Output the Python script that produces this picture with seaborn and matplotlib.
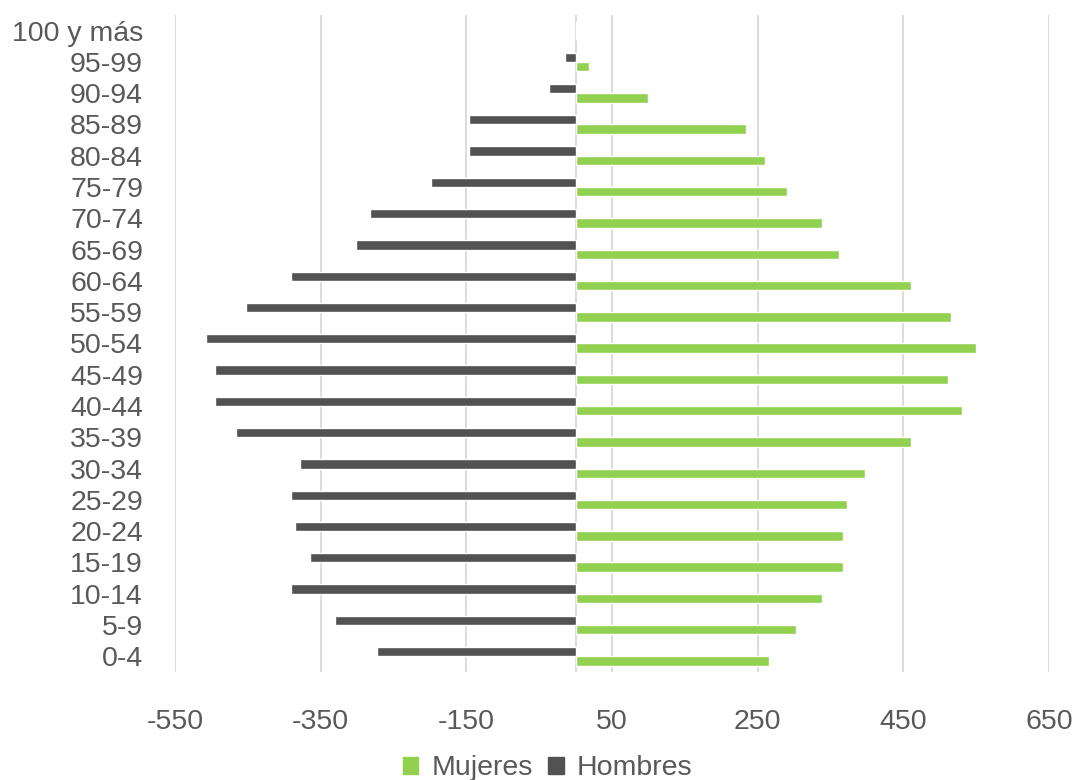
import seaborn as sns
import matplotlib.pyplot as plt
import pandas as pd
from matplotlib.patches import Patch

sns.set_style("white")
plt.rcParams['font.family'] = ['Liberation Sans', 'DejaVu Sans']

# grupos de edad, de arriba hacia abajo
edades = ['100 y más', '95-99', '90-94', '85-89', '80-84', '75-79', '70-74',
          '65-69', '60-64', '55-59', '50-54', '45-49', '40-44', '35-39',
          '30-34', '25-29', '20-24', '15-19', '10-14', '5-9', '0-4']
hombres = [0, -14, -36, -146, -146, -198, -282, -301, -391, -452, -507,
           -495, -495, -466, -379, -391, -385, -365, -391, -330, -272]
mujeres = [0, 18, 99, 234, 260, 290, 338, 361, 460, 515, 550,
           511, 531, 460, 398, 372, 367, 367, 338, 302, 266]
xticks = [-550, -350, -150, 50, 250, 450, 650]

verde = '#92d050'
gris = '#525252'
texto = '#595959'
fs = 20.5

df = pd.concat([
    pd.DataFrame({'edad': edades, 'sexo': 'Hombres', 'valor': hombres}),
    pd.DataFrame({'edad': edades, 'sexo': 'Mujeres', 'valor': mujeres}),
])

fig, ax = plt.subplots(figsize=(10.78, 7.8), dpi=100)
fig.subplots_adjust(left=0.1623, right=0.9731, top=0.9808, bottom=0.1385)

sns.barplot(data=df, x='valor', y='edad', hue='sexo', order=edades,
            hue_order=['Hombres', 'Mujeres'],
            palette={'Hombres': gris, 'Mujeres': verde},
            orient='h', width=0.6, dodge=True, legend=False, ax=ax,
            saturation=1)

ax.set_xlim(-550, 650)
ax.set_xticks(xticks)
ax.set_xticklabels([str(v) for v in xticks])
ax.grid(axis='x', color='#d9d9d9', linewidth=1.3)
ax.set_axisbelow(True)
ax.axvline(0, color='#d9d9d9', linewidth=1.3, zorder=0.5)
for s in ax.spines.values():
    s.set_visible(False)
ax.set_xlabel('')
ax.set_ylabel('')
ax.tick_params(axis='y', length=0, pad=23, labelsize=fs, labelcolor=texto)
ax.tick_params(axis='x', length=0, pad=27, labelsize=fs, labelcolor=texto)

handles = [Patch(color=verde, label='Mujeres'), Patch(color=gris, label='Hombres')]
fig.legend(handles=handles, loc='center', bbox_to_anchor=(0.508, 0.0150),
           ncol=2, frameon=False, fontsize=fs, labelcolor=texto,
           handlelength=0.55, handleheight=0.55, handletextpad=0.45,
           columnspacing=0.55)

fig.savefig('out.png', dpi=100)
